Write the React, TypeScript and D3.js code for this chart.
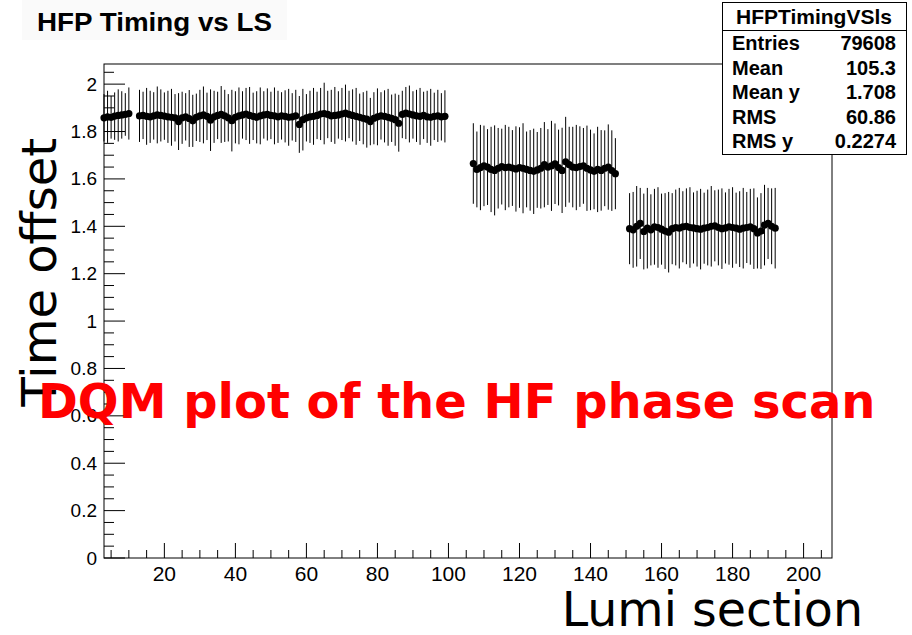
import React from "react";
import * as d3 from "d3";

const W = 912;
const H = 635;

// Lumi-section groups (first LS of each contiguous run) and profile means / errors
const group1Start = 3;
const group1Mean = [1.858, 1.862, 1.86, 1.865, 1.868, 1.87, 1.872, 1.876];
const group1Err = [0.1, 0.11, 0.09, 0.1, 0.11, 0.1, 0.09, 0.11];

const group2Start = 13;
const group2Mean = [
  1.866, 1.868, 1.864, 1.862, 1.866, 1.87, 1.868, 1.865, 1.862, 1.86, 1.858,
  1.842, 1.858, 1.862, 1.855, 1.845, 1.86, 1.866, 1.87, 1.864, 1.848,
  1.862, 1.868, 1.872, 1.866, 1.858, 1.846, 1.86, 1.866, 1.87, 1.874, 1.868,
  1.864, 1.86, 1.866, 1.87, 1.872, 1.868, 1.866, 1.862, 1.866, 1.864, 1.86,
  1.862, 1.866, 1.83, 1.85, 1.858, 1.862, 1.864, 1.868, 1.874, 1.876, 1.872,
  1.866, 1.868, 1.87, 1.874, 1.878, 1.872, 1.868, 1.864, 1.86, 1.856, 1.852,
  1.842, 1.856, 1.862, 1.866, 1.864, 1.86, 1.856, 1.85, 1.835, 1.872, 1.878,
  1.874, 1.87, 1.866, 1.864, 1.868, 1.862, 1.86, 1.864, 1.866, 1.862, 1.864,
];
const group2Err = [
  0.11, 0.1, 0.12, 0.11, 0.1, 0.12, 0.11, 0.1, 0.11, 0.12, 0.1,
  0.12, 0.11, 0.1, 0.12, 0.11, 0.1, 0.11, 0.12, 0.1, 0.13,
  0.11, 0.1, 0.12, 0.11, 0.1, 0.13, 0.11, 0.12, 0.1, 0.11, 0.12,
  0.1, 0.11, 0.12, 0.1, 0.11, 0.1, 0.12, 0.11, 0.1, 0.11, 0.12,
  0.1, 0.11, 0.12, 0.13, 0.1, 0.11, 0.12, 0.1, 0.11, 0.13, 0.1,
  0.11, 0.12, 0.1, 0.11, 0.12, 0.1, 0.11, 0.12, 0.1, 0.11, 0.12,
  0.1, 0.11, 0.12, 0.1, 0.11, 0.12, 0.1, 0.11, 0.12, 0.1, 0.11,
  0.12, 0.1, 0.11, 0.12, 0.1, 0.11, 0.12, 0.1, 0.11, 0.1, 0.11,
];

const group3Start = 107;
const group3Mean = [
  1.665, 1.64, 1.648, 1.655, 1.65, 1.64, 1.636, 1.645, 1.652, 1.648, 1.65,
  1.646, 1.642, 1.648, 1.645, 1.64, 1.636, 1.632, 1.638, 1.645, 1.66, 1.65,
  1.655, 1.664, 1.648, 1.636, 1.672, 1.66, 1.65, 1.648, 1.652, 1.655, 1.645,
  1.638, 1.632, 1.64, 1.636, 1.645, 1.65, 1.635, 1.622,
];
const group3Err = [
  0.17, 0.16, 0.18, 0.17, 0.16, 0.18, 0.19, 0.17, 0.16, 0.18, 0.17,
  0.16, 0.18, 0.17, 0.19, 0.16, 0.17, 0.18, 0.16, 0.17, 0.18, 0.16,
  0.19, 0.17, 0.16, 0.18, 0.19, 0.16, 0.17, 0.18, 0.17, 0.16, 0.18,
  0.17, 0.16, 0.18, 0.17, 0.16, 0.18, 0.17, 0.15,
];

const group4Start = 151;
const group4Mean = [
  1.39, 1.385, 1.4, 1.412, 1.378, 1.392, 1.385, 1.398, 1.395, 1.388, 1.38,
  1.375, 1.39, 1.395, 1.392, 1.398, 1.4, 1.395, 1.393, 1.39, 1.388, 1.392,
  1.395, 1.4, 1.402, 1.395, 1.39, 1.393, 1.398, 1.395, 1.392, 1.388, 1.392,
  1.395, 1.398, 1.39, 1.372, 1.38, 1.405, 1.412, 1.4, 1.392,
];
const group4Err = [
  0.15, 0.16, 0.17, 0.15, 0.16, 0.17, 0.15, 0.16, 0.17, 0.15, 0.16,
  0.17, 0.15, 0.16, 0.17, 0.15, 0.16, 0.17, 0.15, 0.16, 0.17, 0.15,
  0.16, 0.17, 0.15, 0.16, 0.17, 0.15, 0.16, 0.17, 0.15, 0.16, 0.17,
  0.15, 0.16, 0.17, 0.15, 0.16, 0.17, 0.15, 0.16, 0.17,
];

const xTicks = [20, 40, 60, 80, 100, 120, 140, 160, 180, 200];
const yTicks = [0, 0.2, 0.4, 0.6, 0.8, 1, 1.2, 1.4, 1.6, 1.8, 2];
const statLabels = ["Entries", "Mean", "Mean y", "RMS", "RMS y"];
const statValues = ["79608", "105.3", "1.708", "60.86", "0.2274"];

const M = { left: 104, right: 832, top: 64, bottom: 558 };

export default function App() {
  const x = d3.scaleLinear().domain([3, 208]).range([M.left, M.right]);
  const y = d3.scaleLinear().domain([0, 2.085]).range([M.bottom, M.top]);

  const groups: [number, number[], number[]][] = [
    [group1Start, group1Mean, group1Err],
    [group2Start, group2Mean, group2Err],
    [group3Start, group3Mean, group3Err],
    [group4Start, group4Mean, group4Err],
  ];
  const pts = groups.flatMap(([s, m, e]) =>
    m.map((v, i) => ({ ls: s + i, v, e: e[i] }))
  );

  const xMinor = d3.range(5, 208, 5);
  const yMinor = d3.range(0, 2.0851, 0.05);

  const tickFont = "'Liberation Sans', Arial, sans-serif";

  return (
    <svg width={W} height={H} style={{ display: "block", position: "absolute", left: 0, top: 0, background: "#fff" }}>
      <rect x={0} y={0} width={W} height={H} fill="#fff" />
      {/* title */}
      <rect x={22} y={0} width={265} height={40} fill="#fafafa" />
      <text x={37} y={31} fontFamily={tickFont} fontWeight="bold" fontSize={26} textLength={235} lengthAdjust="spacingAndGlyphs" fill="#000">
        HFP Timing vs LS
      </text>

      {/* frame */}
      <rect x={M.left} y={M.top} width={M.right - M.left} height={M.bottom - M.top} fill="none" stroke="#000" strokeWidth={1} />

      {/* x ticks */}
      {xMinor.map((t) => {
        const major = t % 20 === 0;
        return (
          <line key={"xm" + t} x1={x(t)} x2={x(t)} y1={M.bottom} y2={M.bottom - (major ? 15 : 8)} stroke="#000" strokeWidth={1} />
        );
      })}
      {xTicks.map((t) => (
        <text key={"xt" + t} x={x(t)} y={581} textAnchor="middle" fontFamily={tickFont} fontSize={21} fill="#000">
          {t}
        </text>
      ))}

      {/* y ticks */}
      {yMinor.map((t, i) => {
        const major = i % 4 === 0;
        return (
          <line key={"ym" + i} x1={M.left} x2={M.left + (major ? 21 : 10)} y1={y(t)} y2={y(t)} stroke="#000" strokeWidth={1} />
        );
      })}
      {yTicks.map((t) => (
        <text key={"yt" + t} x={97} y={y(t) + 6.5} textAnchor="end" fontFamily={tickFont} fontSize={19} fill="#000">
          {t}
        </text>
      ))}

      {/* error bars */}
      {pts.map((p) => (
        <line key={"e" + p.ls} x1={x(p.ls)} x2={x(p.ls)} y1={y(p.v - p.e)} y2={y(p.v + p.e)} stroke="#000" strokeWidth={1} />
      ))}
      {/* markers */}
      {pts.map((p) => (
        <circle key={"c" + p.ls} cx={x(p.ls)} cy={y(p.v)} r={3.6} fill="#000" />
      ))}

      {/* axis titles */}
      <text x={863} y={626} textAnchor="end" fontFamily="'DejaVu Sans', sans-serif" fontSize={47.5} fill="#000">
        Lumi section
      </text>
      <text
        transform={`translate(56,138) rotate(-90)`}
        textAnchor="end"
        fontFamily="'DejaVu Sans', sans-serif"
        fontSize={48}
        fill="#000"
      >
        Time offset
      </text>

      {/* stats box */}
      <rect x={722.5} y={2.5} width={184} height={152} fill="#fff" stroke="#000" strokeWidth={1} />
      <line x1={722.5} x2={906.5} y1={30.5} y2={30.5} stroke="#000" strokeWidth={1} />
      <text x={814} y={24} textAnchor="middle" fontFamily={tickFont} fontWeight="bold" fontSize={21} fill="#000">
        HFPTimingVSls
      </text>
      {statLabels.map((l, i) => (
        <g key={l}>
          <text x={732} y={50 + i * 24.5} fontFamily={tickFont} fontWeight="bold" fontSize={20} fill="#000">
            {l}
          </text>
          <text x={896} y={50 + i * 24.5} textAnchor="end" fontFamily={tickFont} fontWeight="bold" fontSize={20} fill="#000">
            {statValues[i]}
          </text>
        </g>
      ))}

      {/* overlay annotation */}
      <text x={38} y={418} fontFamily="'DejaVu Sans', sans-serif" fontWeight="bold" fontSize={48} fill="#ff0000">
        DQM plot of the HF phase scan
      </text>
    </svg>
  );
}
